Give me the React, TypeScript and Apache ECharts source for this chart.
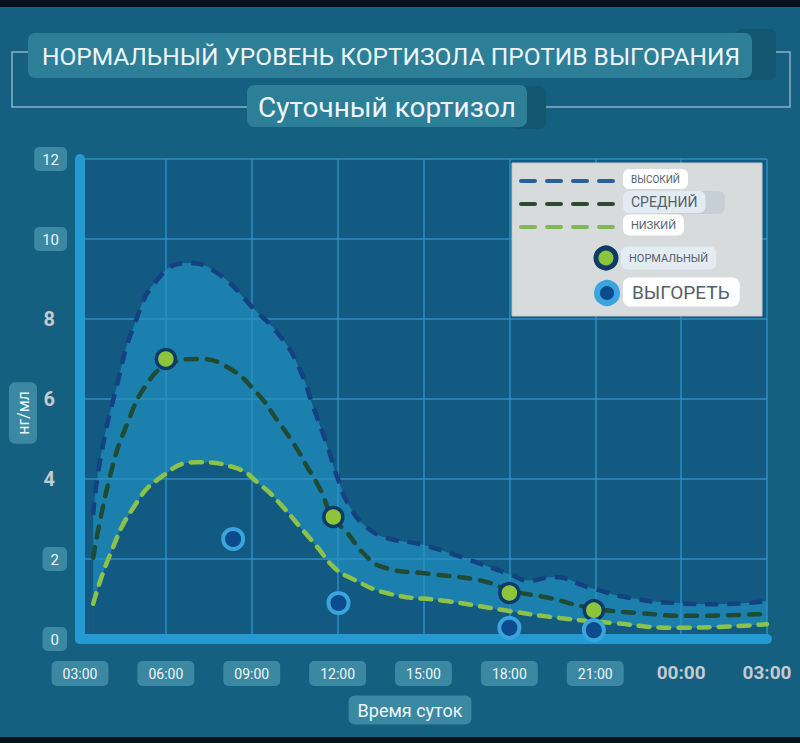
import React, { useEffect, useRef } from "react";
import * as echarts from "echarts";

// ---------- data ----------
const titleText = "НОРМАЛЬНЫЙ УРОВЕНЬ КОРТИЗОЛА ПРОТИВ ВЫГОРАНИЯ";
const subtitleText = "Суточный кортизол";
const xAxisName = "Время суток";
const yAxisName = "нг/мл";

const xTickLabels = ["03:00", "06:00", "09:00", "12:00", "15:00", "18:00", "21:00", "00:00", "03:00"];
const plainXLabelFrom = 7; // labels from this index are drawn without a box
const boxedYValues = [0, 2, 10, 12];

// x = clock hour (3 .. 27), y = ng/ml
const highCurve: [number, number][] = [
  [3.46, 3.1], [3.71, 4.5], [4.31, 6.4], [4.87, 7.8], [5.72, 9.0], [6.76, 9.4],
  [7.79, 9.15], [9.04, 8.28], [10.09, 7.48], [10.69, 6.72], [11.15, 5.8], [11.65, 4.8],
  [12.03, 3.96], [12.44, 3.29], [13.02, 2.79], [13.7, 2.53], [14.93, 2.36], [16.39, 2.03],
  [18.0, 1.62], [18.7, 1.46], [19.5, 1.55], [20.83, 1.28], [22.17, 1.03], [23.83, 0.9],
  [25.28, 0.87], [27.0, 0.95],
];
const midCurve: [number, number][] = [
  [3.46, 2.03], [4.06, 4.1], [4.66, 5.4], [5.36, 6.4], [6.07, 6.85], [7.1, 7.0],
  [8.14, 6.8], [9.18, 6.15], [9.88, 5.48], [10.45, 4.9], [10.94, 4.3], [11.4, 3.73],
  [11.82, 3.05], [12.34, 2.65], [12.89, 2.15], [13.57, 1.8], [15.18, 1.63], [17.01, 1.46],
  [18.1, 1.2], [19.36, 1.03], [20.83, 0.78], [22.5, 0.65], [24.44, 0.58], [27.0, 0.63],
];
const lowCurve: [number, number][] = [
  [3.46, 0.88], [4.06, 2.13], [4.87, 3.29], [5.82, 4.04], [7.1, 4.42], [8.34, 4.3],
  [9.39, 3.8], [10.09, 3.3], [10.69, 2.8], [11.29, 2.3], [11.86, 1.8], [12.44, 1.53],
  [13.81, 1.13], [15.8, 0.95], [18.0, 0.7], [19.7, 0.53], [21.6, 0.4], [23.83, 0.28],
  [27.0, 0.37],
];
const normalPoints: [number, number][] = [[6.0, 7.0], [11.85, 3.05], [18.0, 1.15], [20.95, 0.72]];
const burnoutPoints: [number, number][] = [[8.35, 2.5], [12.03, 0.9], [18.0, 0.28], [20.95, 0.22]];

const lineLegendLabels = ["ВЫСОКИЙ", "СРЕДНИЙ", "НИЗКИЙ"];
const pointLegendLabels = ["НОРМАЛЬНЫЙ", "ВЫГОРЕТЬ"];

// ---------- styles ----------
const C = {
  bg: "#155f80",
  plot: "#125a81",
  band: "#1b80ae",
  axis: "#239bd2",
  grid: "#2a90c2",
  box: "#3b88a2",
  titleBox: "#2d7e97",
  shadow: "#12566f",
  high: "#14417f",
  mid: "#1f4a33",
  low: "#8cc24a",
  green: "#8cc43c",
  navy: "#0d3a66",
  blueIn: "#0c4c8e",
  blueRing: "#3aa4dc",
  text: "#eef5f7",
  plain: "#c3cbce",
};

export default function App() {
  const ref = useRef<HTMLDivElement>(null);

  useEffect(() => {
    document.body.style.margin = "0";
    if (!ref.current) return;
    const chart = echarts.init(ref.current, null, { renderer: "svg" });

    const boxRich = {
      backgroundColor: C.box,
      borderRadius: 5,
      color: C.text,
      fontFamily: "Roboto",
    };

    const legendGraphics: any[] = [
      {
        type: "rect", z: 20,
        shape: { x: 512, y: 163, width: 250, height: 153 },
        style: { fill: "#d8dbdb", stroke: "#c4c9cb", lineWidth: 1 },
      },
    ];
    const dashColors = ["#2b5f96", "#2c4a34", "#80b852"];
    const lineLabelStyles = [
      { bg: "#ffffff", size: 10, y: 179 },
      { bg: "#e2ebf2", size: 14, y: 202 },
      { bg: "#ffffff", size: 11, y: 225 },
    ];
    lineLegendLabels.forEach((lab, i) => {
      const s = lineLabelStyles[i];
      legendGraphics.push({
        type: "line", z: 21,
        shape: { x1: 521, y1: s.y + 2, x2: 613, y2: s.y + 2 },
        style: { stroke: dashColors[i], lineWidth: 4, lineDash: [14, 12], lineCap: "round" },
      });
      if (i === 1) {
        legendGraphics.push({
          type: "rect", z: 21,
          shape: { x: 660, y: s.y - 11, width: 65, height: 23, r: 7 },
          style: { fill: "#c7cfd6" },
        });
      }
      legendGraphics.push({
        type: "text", z: 22, x: 623, y: s.y,
        style: {
          text: lab, fill: "#55606a", fontSize: s.size, fontFamily: "Roboto",
          verticalAlign: "middle", backgroundColor: s.bg, borderRadius: 6,
          padding: i === 1 ? [4, 8, 4, 8] : [5, 8, 5, 8],
        },
      });
    });
    legendGraphics.push(
      {
        type: "circle", z: 21, shape: { cx: 606, cy: 258, r: 10 },
        style: { fill: C.green, stroke: C.navy, lineWidth: 5 },
      },
      {
        type: "text", z: 22, x: 621, y: 258,
        style: {
          text: pointLegendLabels[0], fill: "#55606a", fontSize: 11, fontFamily: "Roboto",
          verticalAlign: "middle", backgroundColor: "#e4ecf3", borderRadius: 6, padding: [6, 8, 6, 8],
        },
      },
      {
        type: "circle", z: 21, shape: { cx: 607, cy: 293, r: 10 },
        style: { fill: C.blueIn, stroke: C.blueRing, lineWidth: 6 },
      },
      {
        type: "text", z: 22, x: 623, y: 292,
        style: {
          text: pointLegendLabels[1], fill: "#55606a", fontSize: 19, fontFamily: "Roboto",
          verticalAlign: "middle", backgroundColor: "#ffffff", borderRadius: 7, padding: [5, 10, 5, 9],
        },
      }
    );

    const option: any = {
      animation: false,
      backgroundColor: C.bg,
      tooltip: { show: false },
      grid: {
        left: 80, right: 33, top: 159, bottom: 104,
        show: true, backgroundColor: C.plot, borderWidth: 0,
      },
      xAxis: {
        type: "value", min: 3, max: 27, interval: 3, z: 3,
        axisLine: { show: true, onZero: false, lineStyle: { color: C.axis, width: 10, cap: "round" } },
        axisTick: { show: false },
        splitLine: { show: true, lineStyle: { color: C.grid, width: 1.5 } },
        axisLabel: {
          margin: 22,
          formatter: (v: number) => {
            const i = Math.round((v - 3) / 3);
            const lab = xTickLabels[i] ?? "";
            return i >= plainXLabelFrom ? `{plain|${lab}}` : `{box|${lab}}`;
          },
          rich: {
            box: { ...boxRich, fontSize: 14, padding: [6, 11, 5, 11] },
            plain: {
              color: C.plain, fontSize: 19, fontWeight: "bold",
              fontFamily: "Roboto",
              padding: [2, 0, 0, 0],
            },
          },
        },
      },
      yAxis: {
        type: "value", min: 0, max: 12, interval: 2, z: 3,
        axisLine: { show: true, onZero: false, lineStyle: { color: C.axis, width: 10, cap: "round" } },
        axisTick: { show: false },
        splitLine: { show: true, lineStyle: { color: C.grid, width: 1.5 } },
        axisLabel: {
          margin: 13,
          formatter: (v: number) =>
            boxedYValues.includes(v) ? `{box|${v}}` : `{plain|${v}}`,
          rich: {
            box: { ...boxRich, fontSize: 15, padding: [5, 8, 4, 8] },
            plain: {
              color: C.plain, fontSize: 20, fontWeight: "bold",
              fontFamily: "Roboto",
              padding: [0, 12, 0, 0],
            },
          },
        },
      },
      series: [
        {
          name: "bandTop", type: "line", data: highCurve, smooth: 0.5, z: 1,
          showSymbol: false, symbol: "none", silent: true,
          lineStyle: { width: 0, opacity: 0 },
          areaStyle: { color: C.band, opacity: 1 },
        },
        {
          name: "bandBottom", type: "line", data: lowCurve, smooth: 0.5, z: 2,
          showSymbol: false, symbol: "none", silent: true,
          lineStyle: { width: 0, opacity: 0 },
          areaStyle: { color: C.plot, opacity: 1 },
        },
        {
          name: lineLegendLabels[0], type: "line", data: highCurve, smooth: 0.5, z: 4,
          showSymbol: false, symbol: "none",
          lineStyle: { color: C.high, width: 4.5, type: [13, 9], cap: "butt" },
        },
        {
          name: lineLegendLabels[1], type: "line", data: midCurve, smooth: 0.5, z: 4,
          showSymbol: false, symbol: "none",
          lineStyle: { color: C.mid, width: 4.5, type: [11, 10], cap: "round" },
        },
        {
          name: lineLegendLabels[2], type: "line", data: lowCurve, smooth: 0.5, z: 4,
          showSymbol: false, symbol: "none",
          lineStyle: { color: C.low, width: 4.5, type: [11, 9], cap: "round" },
        },
        {
          name: pointLegendLabels[0], type: "scatter", data: normalPoints, z: 5,
          symbolSize: 19,
          itemStyle: { color: C.green, borderColor: C.navy, borderWidth: 3.5, opacity: 1 },
        },
        {
          name: pointLegendLabels[1], type: "scatter", data: burnoutPoints, z: 5,
          symbolSize: 20,
          itemStyle: { color: C.blueIn, borderColor: C.blueRing, borderWidth: 4, opacity: 1 },
        },
      ],
      graphic: [
        { type: "rect", z: 10, shape: { x: 0, y: 0, width: 800, height: 7 }, style: { fill: "#06121b" } },
        { type: "rect", z: 10, shape: { x: 0, y: 737, width: 800, height: 6 }, style: { fill: "#06121b" } },
        {
          type: "polyline", z: 10,
          shape: { points: [[28, 52], [12, 52], [12, 107], [247, 107]] },
          style: { stroke: "#86b4c4", lineWidth: 1.5, fill: null },
        },
        {
          type: "polyline", z: 10,
          shape: { points: [[527, 107], [790, 107], [790, 52], [776, 52]] },
          style: { stroke: "#86b4c4", lineWidth: 1.5, fill: null },
        },
        { type: "rect", z: 10, shape: { x: 735, y: 29, width: 41, height: 51, r: 7 }, style: { fill: C.shadow } },
        { type: "rect", z: 11, shape: { x: 28, y: 33, width: 724, height: 45, r: 7 }, style: { fill: C.titleBox } },
        {
          type: "text", z: 12, x: 391, y: 56,
          style: {
            text: titleText, fill: C.text, fontSize: 24.5, fontFamily: "Roboto",
            align: "center", verticalAlign: "middle",
          },
        },
        { type: "rect", z: 10, shape: { x: 510, y: 86, width: 36, height: 43, r: 7 }, style: { fill: C.shadow } },
        { type: "rect", z: 11, shape: { x: 247, y: 85, width: 280, height: 42, r: 7 }, style: { fill: C.titleBox } },
        {
          type: "text", z: 12, x: 387, y: 107,
          style: {
            text: subtitleText, fill: C.text, fontSize: 28, fontFamily: "Roboto",
            align: "center", verticalAlign: "middle",
          },
        },
        {
          type: "text", z: 12, x: 410, y: 710,
          style: {
            text: xAxisName, fill: C.text, fontSize: 18, fontFamily: "Roboto",
            align: "center", verticalAlign: "middle",
            backgroundColor: C.box, borderRadius: 6, padding: [6, 9, 5, 9],
          },
        },
        {
          type: "text", z: 12, x: 23, y: 413, rotation: Math.PI / 2,
          style: {
            text: yAxisName, fill: C.text, fontSize: 16, fontFamily: "Roboto",
            align: "center", verticalAlign: "middle",
            backgroundColor: C.box, borderRadius: 6, padding: [6, 9, 6, 9],
          },
        },
        ...legendGraphics,
      ],
    };

    chart.setOption(option);
    return () => chart.dispose();
  }, []);

  return <div ref={ref} style={{ width: 800, height: 743 }} />;
}
